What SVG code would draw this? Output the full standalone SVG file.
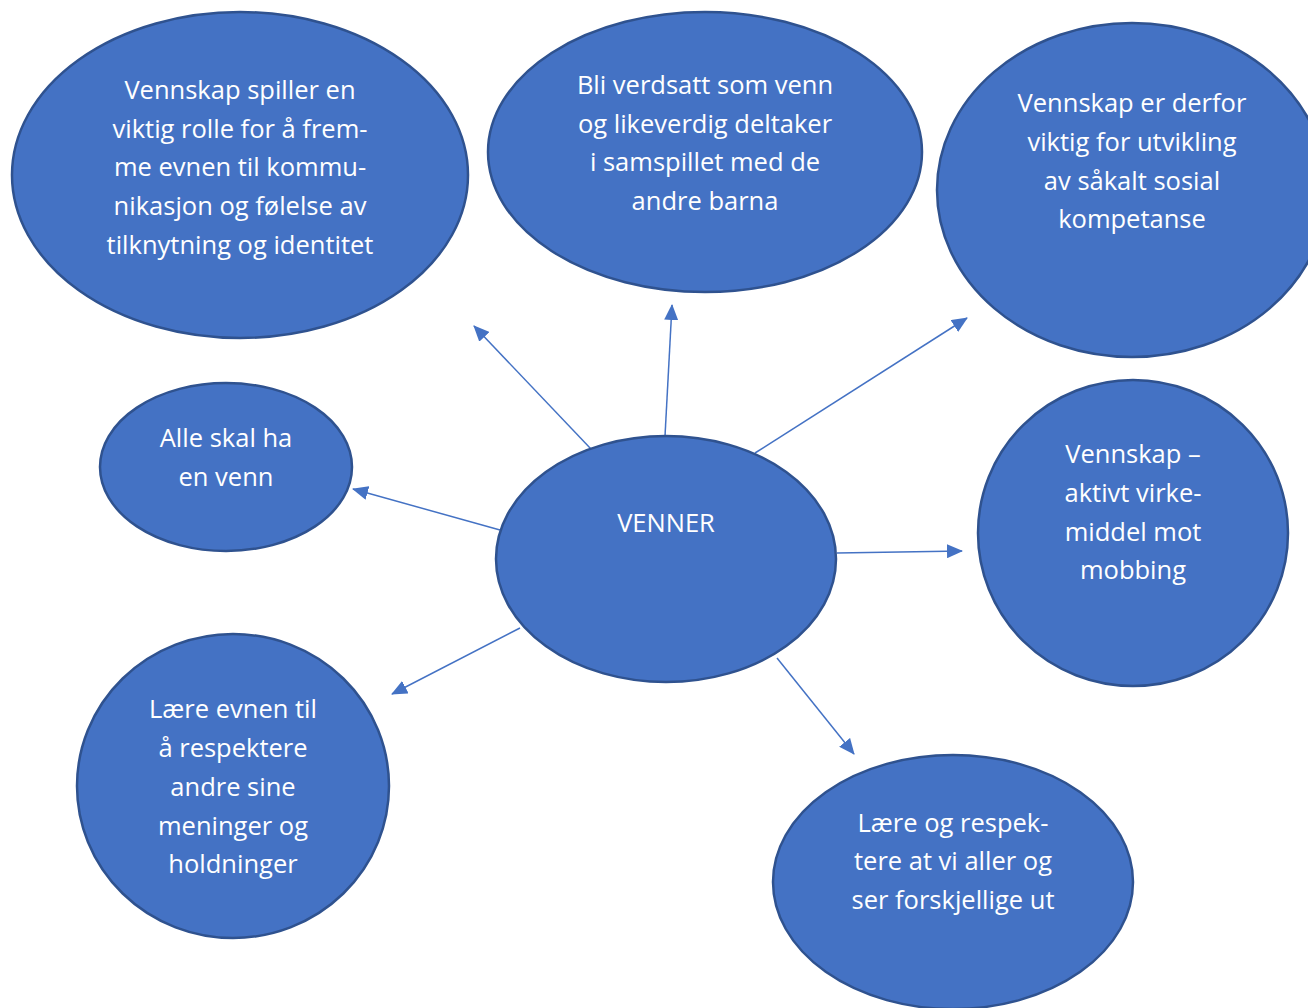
<svg xmlns="http://www.w3.org/2000/svg" width="1308" height="1008" viewBox="0 0 1308 1008">
<style>
.n ellipse{fill:#4472C4;stroke:#2F528F;stroke-width:2.5}
.n text{fill:#fff;font-family:"Open Sans","Noto Sans","DejaVu Sans",sans-serif;font-size:25.5px;text-anchor:middle;font-variant-ligatures:none}
.c line{stroke:#4472C4;stroke-width:1.5;marker-end:url(#ah)}
</style>
<defs>
<marker id="ah" markerUnits="userSpaceOnUse" markerWidth="16" markerHeight="14" refX="15" refY="7" orient="auto">
<path d="M0,0 L16,7 L0,14 Z" fill="#4472C4"/>
</marker>
</defs>
<rect width="1308" height="1008" fill="#fff"/>
<g id="connectors" class="c">
<line x1="591" y1="449" x2="474" y2="326"/>
<line x1="665" y1="436" x2="672" y2="305"/>
<line x1="755" y1="453" x2="967" y2="318"/>
<line x1="500" y1="530" x2="353" y2="489"/>
<line x1="837" y1="553" x2="962" y2="551"/>
<line x1="520" y1="628" x2="392" y2="694"/>
<line x1="777" y1="658" x2="854" y2="754"/>
</g>
<g id="n1" class="n">
<ellipse cx="240" cy="175" rx="228" ry="163"/>
<text x="240" y="99">Vennskap spiller en</text>
<text x="240" y="138">viktig rolle for å frem-</text>
<text x="240" y="176">me evnen til kommu-</text>
<text x="240" y="215">nikasjon og følelse av</text>
<text x="240" y="254">tilknytning og identitet</text>
</g>
<g id="n2" class="n">
<ellipse cx="705" cy="152" rx="217" ry="140"/>
<text x="705" y="94">Bli verdsatt som venn</text>
<text x="705" y="133">og likeverdig deltaker</text>
<text x="705" y="171">i samspillet med de</text>
<text x="705" y="210">andre barna</text>
</g>
<g id="n3" class="n">
<ellipse cx="1132" cy="190" rx="195" ry="167"/>
<text x="1132" y="112">Vennskap er derfor</text>
<text x="1132" y="151">viktig for utvikling</text>
<text x="1132" y="190">av såkalt sosial</text>
<text x="1132" y="228">kompetanse</text>
</g>
<g id="n4" class="n">
<ellipse cx="226" cy="467" rx="126" ry="84"/>
<text x="226" y="447">Alle skal ha</text>
<text x="226" y="486">en venn</text>
</g>
<g id="n5" class="n">
<ellipse cx="666" cy="559" rx="170" ry="123"/>
<text x="666" y="532">VENNER</text>
</g>
<g id="n6" class="n">
<ellipse cx="1133" cy="533" rx="155" ry="153"/>
<text x="1133" y="463">Vennskap –</text>
<text x="1133" y="502">aktivt virke-</text>
<text x="1133" y="541">middel mot</text>
<text x="1133" y="579">mobbing</text>
</g>
<g id="n7" class="n">
<ellipse cx="233" cy="786" rx="156" ry="152"/>
<text x="233" y="718">Lære evnen til</text>
<text x="233" y="757">å respektere</text>
<text x="233" y="796">andre sine</text>
<text x="233" y="835">meninger og</text>
<text x="233" y="873">holdninger</text>
</g>
<g id="n8" class="n">
<ellipse cx="953" cy="882" rx="180" ry="127"/>
<text x="953" y="832">Lære og respek-</text>
<text x="953" y="870">tere at vi aller og</text>
<text x="953" y="909">ser forskjellige ut</text>
</g>
</svg>
